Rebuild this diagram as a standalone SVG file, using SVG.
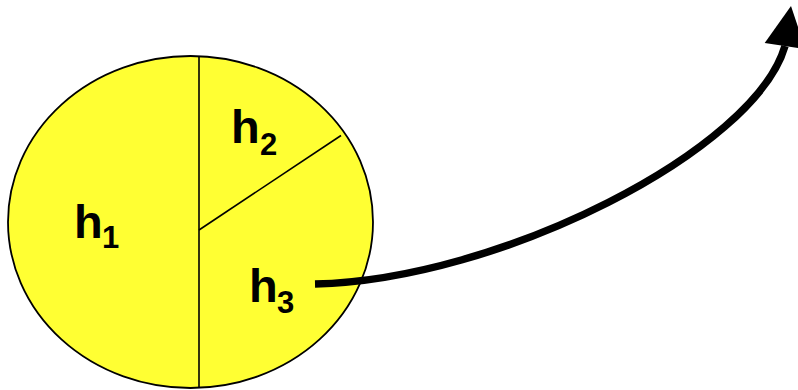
<svg xmlns="http://www.w3.org/2000/svg" width="798" height="390" viewBox="0 0 798 390">
<style>
.lbl{font-family:"Liberation Sans",Arial,sans-serif;font-weight:bold;fill:#000}
.h{font-size:47px}
.s{font-size:31px}
.thin{stroke:#000;stroke-width:1.6;fill:none}
</style>
<rect width="798" height="390" fill="#fff"/>
<g id="circle">
<ellipse cx="190.5" cy="222" rx="182.5" ry="166" fill="#ffff33" stroke="#000" stroke-width="1.8"/>
<line class="thin" x1="199" y1="56" x2="199" y2="388"/>
<line class="thin" x1="199" y1="230" x2="341" y2="135.5"/>
</g>
<g id="h1"><text class="lbl h" x="74" y="238">h</text><text class="lbl s" x="102" y="248">1</text></g>
<g id="h2"><text class="lbl h" x="231" y="143">h</text><text class="lbl s" x="260" y="155">2</text></g>
<g id="h3"><text class="lbl h" x="249" y="302">h</text><text class="lbl s" x="277" y="313">3</text></g>
<g id="connectors">
<path d="M315,284 C500,280 755,150 785,46" fill="none" stroke="#000" stroke-width="7.5"/>
<polygon points="791,6 764.7,42.9 805.3,49.1" fill="#000"/>
</g>
</svg>
